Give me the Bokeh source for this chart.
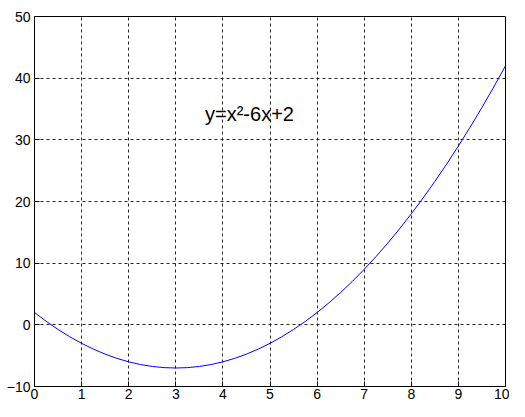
from bokeh.plotting import figure
from bokeh.models import Range1d, FixedTicker
from bokeh.embed import file_html
from bokeh.resources import INLINE
from bokeh.core.properties import value

# values
x_vals = [0, 0.25, 0.5, 0.75, 1, 1.25, 1.5, 1.75, 2, 2.25, 2.5, 2.75, 3, 3.25, 3.5, 3.75,
          4, 4.25, 4.5, 4.75, 5, 5.25, 5.5, 5.75, 6, 6.25, 6.5, 6.75, 7, 7.25, 7.5, 7.75,
          8, 8.25, 8.5, 8.75, 9, 9.25, 9.5, 9.75, 10]
y_vals = [2, 0.56, -0.75, -1.94, -3, -3.94, -4.75, -5.44, -6, -6.44, -6.75, -6.94, -7, -6.94,
          -6.75, -6.44, -6, -5.44, -4.75, -3.94, -3, -1.94, -0.75, 0.56, 2, 3.56, 5.25, 7.06,
          9, 11.06, 13.25, 15.56, 18, 20.56, 23.25, 26.06, 29, 32.06, 35.25, 38.56, 42]
x_ticks = [0, 1, 2, 3, 4, 5, 6, 7, 8, 9, 10]
y_ticks = [-10, 0, 10, 20, 30, 40, 50]
label_text = ["y=x²-6x+2"]
label_x = [3.62]
label_y = [34.2]

FONT = "Liberation Sans"

p = figure(width=509, height=401, output_backend="svg", toolbar_location=None,
           x_range=Range1d(0, 10), y_range=Range1d(-10, 50),
           min_border_left=34, min_border_top=16, min_border_right=4, min_border_bottom=0)

p.background_fill_color = "white"
p.border_fill_color = "white"
p.outline_line_color = "black"
p.outline_line_width = 1

for ax, ticks in ((p.xaxis[0], x_ticks), (p.yaxis[0], y_ticks)):
    ax.ticker = FixedTicker(ticks=ticks)
    ax.major_tick_in = 5
    ax.major_tick_out = 0
    ax.minor_tick_line_color = None
    ax.axis_line_color = "black"
    ax.major_tick_line_color = "black"
    ax.major_label_text_font = FONT
    ax.major_label_text_font_size = "14px"
    ax.major_label_text_color = "black"
p.xaxis.major_label_standoff = 2
p.yaxis.major_label_standoff = 4

for g in (p.xgrid[0], p.ygrid[0]):
    g.grid_line_color = "black"
    g.grid_line_dash = "3 3"
    g.grid_line_alpha = 0.85
    g.grid_line_width = 1

p.line(x_vals, y_vals, line_color="#0000ff", line_width=1)

p.text(x=label_x, y=label_y, text=label_text, text_font=value(FONT),
       text_font_size="20px", text_baseline="middle", text_align="left", text_color="black")

open("out.html", "w").write(file_html(p, INLINE))
